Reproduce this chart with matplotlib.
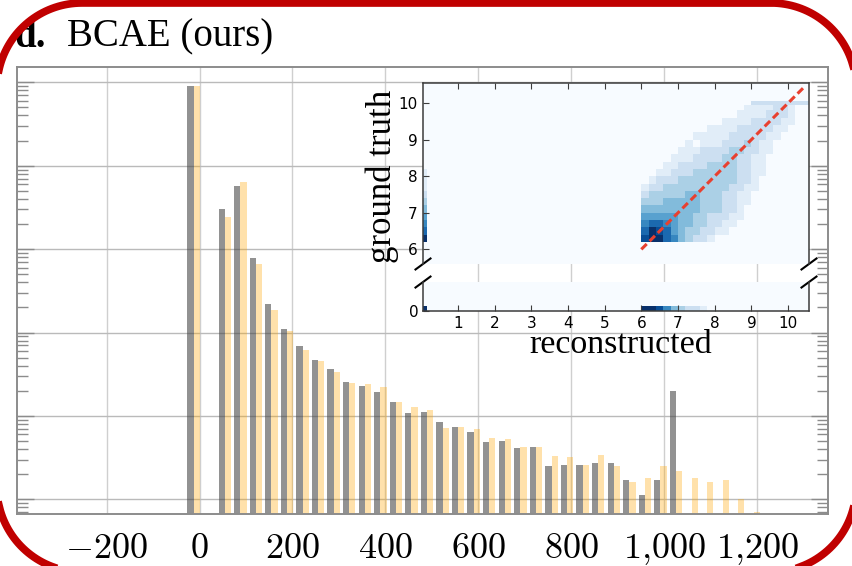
import numpy as np
import matplotlib
matplotlib.use('Agg')
import matplotlib.pyplot as plt
from matplotlib.ticker import LogLocator, NullFormatter

plt.rcParams['mathtext.fontset'] = 'cm'

# ---- main histogram: ADC value bins (centres) and counts ----
bin_centres = [-12.75, 54.25, 87.75, 121.25, 154.75, 188.25, 221.75, 255.25,
               288.75, 322.25, 355.75, 389.25, 422.75, 456.25, 489.75, 523.25,
               556.75, 590.25, 623.75, 657.25, 690.75, 724.25, 757.75, 791.25,
               824.75, 858.25, 891.75, 925.25, 958.75, 992.25, 1025.75, 1059.25,
               1092.75, 1126.25, 1159.75, 1193.25]
bin_width = 33.5
counts_truth = [904000, 30300, 57100, 7820, 2178, 1102, 695, 465, 362, 255,
                228, 195, 148, 109, 111, 84, 73, 64, 49, 50, 41, 42, 25, 26,
                26, 27.5, 27.5, 17, 11.3, 17, 197, 0, 0, 0, 0, 0]
counts_recon = [891000, 24000, 64400, 6680, 1862, 1042, 611, 455, 339, 250,
                239, 220, 148, 127, 118, 71, 73, 70, 55, 53, 42, 42, 33, 32,
                26, 34, 25, 16, 18, 25, 22, 18, 16, 17, 10, 7]

x_ticks = [-200, 0, 200, 400, 600, 800, 1000, 1200]
x_ticklabels = [r'$-200$', r'$0$', r'$200$', r'$400$', r'$600$', r'$800$',
                r'$1{,}000$', r'$1{,}200$']

# ---- inset: 2D histogram of log2 ADC (reconstructed vs ground truth) ----
rec_edges = [6.0, 6.2, 6.4, 6.6, 6.8, 7.0, 7.2, 7.4, 7.6, 7.8, 8.0, 8.2,
             8.4, 8.6, 8.8, 9.0, 9.2, 9.4, 9.6, 9.8, 10.0, 10.2, 10.4, 10.6]
gt_edges = [6.2, 6.4, 6.6, 6.8, 7.0, 7.2, 7.4, 7.6, 7.8, 8.0, 8.2, 8.4,
            8.6, 8.8, 9.0, 9.2, 9.4, 9.6, 9.8, 9.95, 10.05]
# density level per cell (0 empty .. 9 darkest), one string per ground-truth row
heat_rows = [
    "8997643221",
    "798754332211",
    "6776544332211",
    "55555443322211",
    "44444444333221",
    "333444443332211",
    "233333443332211",
    "1223333333332211",
    "0122233333333221",
    "00112223333332211",
    "00011222233332211",
    "00001112222332211",
    "000001112222332211",
    "000000101112223211",
    "0000000111112222211",
    "00000000011112222211",
    "000000000001111222211",
    "000000000000011112221",
    "000000000000001111221",
    "00000000000000022222222",
]
# reconstructed == 0 column (ground truth 6.2 .. 8.2)
zero_col_edges = [6.2, 6.4, 6.6, 6.8, 7.0, 7.2, 7.4, 7.6, 7.8, 8.0, 8.2]
zero_col_levels = [9, 7, 6, 5, 4, 3, 2, 1, 1, 1]
# ground truth == 0 row (reconstructed 6.0 .. 7.8)
zero_row_levels = [9, 9, 8, 6, 4, 3, 2, 2, 1]

heat = np.array([[int(c) for c in r.ljust(23, '0')] for r in heat_rows])

fig = plt.figure(figsize=(8.53, 5.66), dpi=100)
ax = fig.add_axes([0.0199, 0.0919, 0.9508, 0.7897])

w = bin_width * 0.4
xc = np.array(bin_centres)
ax.bar(xc - w / 2, counts_truth, width=w, color='#444444', alpha=0.58, linewidth=0)
ax.bar(xc + w / 2, counts_recon, width=w, color='orange', alpha=0.33, linewidth=0)

ax.set_yscale('log')
ax.set_ylim(6.67, 1.525e6)
ax.set_xlim(-393, 1353)
ax.yaxis.set_major_locator(LogLocator(base=10, numticks=12))
ax.yaxis.set_minor_locator(LogLocator(base=10, subs=np.arange(2, 10), numticks=12))
ax.yaxis.set_minor_formatter(NullFormatter())
ax.set_axisbelow(True)
ax.grid(True, axis='x', which='major', color='#cfcfcf', linewidth=1.0)
ax.grid(True, axis='y', which='major', color='#bababa', linewidth=1.0)
ax.set_xticks(x_ticks)
ax.set_xticklabels(x_ticklabels, fontsize=26)
ax.tick_params(axis='x', length=0, pad=12)
ax.tick_params(axis='y', which='major', direction='in', length=12, width=1,
               color='#8c8c8c', left=True, right=True, labelleft=False)
ax.tick_params(axis='y', which='minor', direction='in', length=8, width=1,
               color='#8c8c8c', left=True, right=True)
for s in ax.spines.values():
    s.set_color('#8c8c8c')
    s.set_linewidth(1.4)

# ---- inset panels (broken y axis) ----
bg = plt.cm.Blues(0.0)
ax_up = fig.add_axes([0.4959, 0.5336, 0.4525, 0.3198])
ax_lo = fig.add_axes([0.4959, 0.4505, 0.4525, 0.0512])
for a in (ax_up, ax_lo):
    a.set_facecolor(bg)
    a.set_xlim(0.05, 10.57)
    for s in a.spines.values():
        s.set_color('#3c3c3c')
        s.set_linewidth(1.1)

ax_up.pcolormesh(rec_edges, gt_edges, heat, cmap='Blues', vmin=0, vmax=9,
                 shading='flat', edgecolors='none', antialiased=False)
ax_up.pcolormesh([0.05, 0.15], zero_col_edges, np.array(zero_col_levels)[:, None],
                 cmap='Blues', vmin=0, vmax=9, shading='flat', antialiased=False)
ax_lo.pcolormesh(rec_edges[:10], [0, 0.14], np.array(zero_row_levels)[None, :],
                 cmap='Blues', vmin=0, vmax=9, shading='flat', antialiased=False)
ax_lo.pcolormesh([0.05, 0.15], [0, 0.14], [[9]],
                 cmap='Blues', vmin=0, vmax=9, shading='flat', antialiased=False)

ax_up.plot([6, 10.45], [6, 10.45], color='#e8402f', lw=2.2, dashes=(2.5, 1.3))

ax_up.set_ylim(5.6, 10.55)
ax_lo.set_ylim(0, 0.8)
ax_up.spines['bottom'].set_visible(False)
ax_lo.spines['top'].set_visible(False)

ax_up.set_xticks(range(1, 11))
ax_up.set_yticks([6, 7, 8, 9, 10])
ax_up.tick_params(axis='x', direction='in', top=True, bottom=False,
                  labelbottom=False, length=4, color='#3c3c3c')
ax_up.tick_params(axis='y', direction='in', length=4, labelsize=11,
                  pad=4, color='#3c3c3c')
ax_lo.set_xticks(range(1, 11))
ax_lo.set_yticks([0])
ax_lo.tick_params(direction='in', length=4, labelsize=11, pad=3.5, color='#3c3c3c')

# break marks
dx, dy = 7.5 / 386, 5.5 / 181
ax_up.plot([-dx, dx], [-dy, dy], transform=ax_up.transAxes, color='k', lw=1.5, clip_on=False)
ax_up.plot([1 - dx, 1 + dx], [-dy, dy], transform=ax_up.transAxes, color='k', lw=1.5, clip_on=False)
dy2 = 5.5 / 29
ax_lo.plot([-dx, dx], [1 - dy2, 1 + dy2], transform=ax_lo.transAxes, color='k', lw=1.5, clip_on=False)
ax_lo.plot([1 - dx, 1 + dx], [1 - dy2, 1 + dy2], transform=ax_lo.transAxes, color='k', lw=1.5, clip_on=False)

fig.text(391 / 853, 1 - 176 / 566, 'ground truth', family='Liberation Serif',
         fontsize=25, rotation=90, rotation_mode='anchor', ha='center', va='baseline')
fig.text(621 / 853, 1 - 353 / 566, 'reconstructed', family='Liberation Serif',
         fontsize=24.5, ha='center', va='baseline')

# title
fig.text(14 / 853, 1 - 46.7 / 566, 'd.', family='Liberation Serif', fontweight='bold',
         fontsize=28, va='baseline')
fig.text(67 / 853, 1 - 46.7 / 566, 'BCAE (ours)', family='Liberation Serif',
         fontsize=28, va='baseline')

# red rounded frame, drawn as a polyline in a pixel-unit overlay
over = fig.add_axes([0, 0, 1, 1], zorder=10)
over.set_xlim(0, 853)
over.set_ylim(566, 0)
over.axis('off')
over.patch.set_alpha(0)
fx0, fy0, fx1, fy1, rad = -3, 3, 856, 572, 85
t = np.linspace(0, np.pi / 2, 40)
px = np.concatenate([fx0 + rad - rad * np.cos(t), fx1 - rad + rad * np.sin(t),
                     fx1 - rad + rad * np.cos(t), fx0 + rad - rad * np.sin(t)])
py = np.concatenate([fy0 + rad - rad * np.sin(t), fy0 + rad - rad * np.cos(t),
                     fy1 - rad + rad * np.sin(t), fy1 - rad + rad * np.cos(t)])
px = np.append(px, px[0])
py = np.append(py, py[0])
over.plot(px, py, color='#c00000', lw=5.5, clip_on=False, solid_joinstyle='round')

fig.savefig('out.png', dpi=100)
